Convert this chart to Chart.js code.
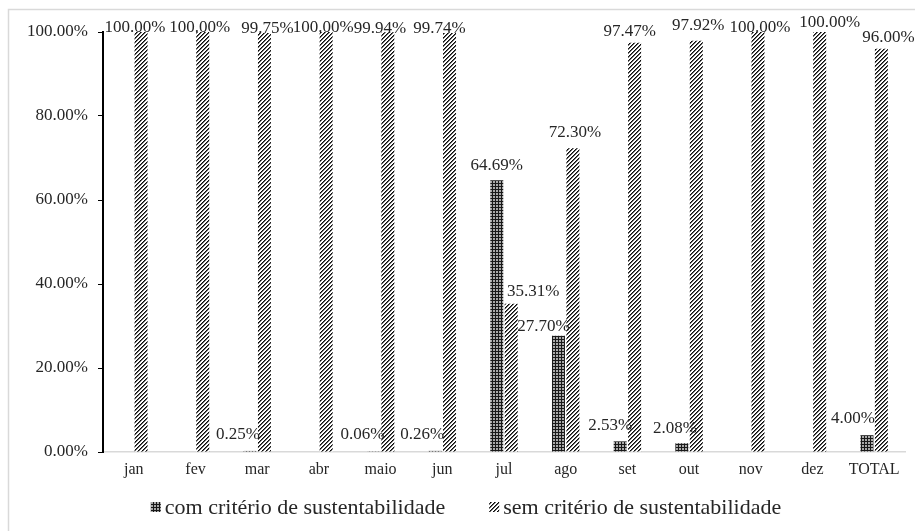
<!DOCTYPE html>
<html>
<head>
<meta charset="utf-8">
<script src="https://cdn.jsdelivr.net/npm/chart.js@4.4.1/dist/chart.umd.min.js"></script>
<style>
  html, body { margin: 0; padding: 0; background: #fff; }
  #wrap { width: 915px; height: 531px; position: relative; }
</style>
</head>
<body>
<div id="wrap"><canvas id="c" width="915" height="531"></canvas></div>
<script>
// Share of purchases with / without sustainability criteria, by month
const categories = ['jan', 'fev', 'mar', 'abr', 'maio', 'jun', 'jul', 'ago', 'set', 'out', 'nov', 'dez', 'TOTAL'];
const comCriterio = [0, 0, 0.25, 0, 0.06, 0.26, 64.69, 27.70, 2.53, 2.08, 0, 0, 4.00];
const semCriterio = [100, 100, 99.75, 100, 99.94, 99.74, 35.31, 72.30, 97.47, 97.92, 100, 100, 96.00];
const seriesNames = ['com critério de sustentabilidade', 'sem critério de sustentabilidade'];
const yTicks = [0, 20, 40, 60, 80, 100];

const SERIF = '"Liberation Serif", "Times New Roman", serif';
const canvas = document.getElementById('c');
const ctx0 = canvas.getContext('2d');

// Small pixel tiles used as bar fills
function makePattern(size, painter) {
  const t = document.createElement('canvas');
  t.width = size; t.height = size;
  const g = t.getContext('2d');
  const img = g.createImageData(size, size);
  for (let y = 0; y < size; y++) {
    for (let x = 0; x < size; x++) {
      const v = painter(x, y);
      const i = (y * size + x) * 4;
      img.data[i] = img.data[i + 1] = img.data[i + 2] = v;
      img.data[i + 3] = 255;
    }
  }
  g.putImageData(img, 0, 0);
  return ctx0.createPattern(t, 'repeat');
}
// dark dotted grid
const gridDots = makePattern(3, (x, y) => (x === 0 || y === 0) ? 25 : 170);
// upward diagonal hatch
const diagHatch = makePattern(4, (x, y) => {
  const k = (x + y) % 4;
  return k === 0 ? 10 : (k === 1 ? 100 : 255);
});

const fmtPct = v => v.toFixed(2) + '%';

// Value labels above each bar (zero values are left unlabelled)
const barLabels = {
  id: 'barLabels',
  afterDatasetsDraw(chart, args, opts) {
    const ctx = chart.ctx;
    ctx.save();
    ctx.font = opts.size + 'px ' + SERIF;
    ctx.fillStyle = opts.color;
    ctx.textAlign = 'center';
    ctx.textBaseline = 'middle';
    chart.data.datasets.forEach((ds, di) => {
      const meta = chart.getDatasetMeta(di);
      meta.data.forEach((bar, i) => {
        const v = ds.data[i];
        if (!v) return;
        const n = (opts.nudge[di] && opts.nudge[di][i]) || [0, -15];
        ctx.fillText(fmtPct(v), bar.x + n[0], bar.y + n[1]);
      });
    });
    ctx.restore();
  }
};

// White background and thin light frame
const frame = {
  id: 'frame',
  beforeDraw(chart) {
    const ctx = chart.ctx;
    ctx.save();
    ctx.fillStyle = '#fff';
    ctx.fillRect(0, 0, chart.width, chart.height);
    ctx.strokeStyle = '#d9d9d9';
    ctx.lineWidth = 1.5;
    ctx.strokeRect(8.5, 9.5, 930, 540);
    ctx.restore();
  }
};

// Legend row beneath the axis
const bottomLegend = {
  id: 'bottomLegend',
  afterDraw(chart, args, opts) {
    const ctx = chart.ctx;
    ctx.save();
    ctx.font = opts.size + 'px ' + SERIF;
    ctx.textBaseline = 'middle';
    ctx.textAlign = 'left';
    const items = chart.data.datasets.map(ds => ({
      text: ds.label, fill: ds.backgroundColor, w: ctx.measureText(ds.label).width
    }));
    const box = opts.box, gapText = opts.gapText, gapItem = opts.gapItem;
    let total = 0;
    items.forEach((it, k) => { total += box + gapText + it.w + (k ? gapItem : 0); });
    let x = opts.centerX - total / 2;
    const y = opts.y;
    items.forEach((it, k) => {
      if (k) x += gapItem;
      ctx.fillStyle = it.fill;
      ctx.fillRect(x, y - box / 2, box, box);
      x += box + gapText;
      ctx.fillStyle = opts.color;
      ctx.fillText(it.text, x, y + 1);
      x += it.w;
    });
    ctx.restore();
  }
};

new Chart(canvas, {
  type: 'bar',
  data: {
    labels: categories,
    datasets: [
      { label: seriesNames[0], data: comCriterio, backgroundColor: gridDots, borderWidth: 0 },
      { label: seriesNames[1], data: semCriterio, backgroundColor: diagHatch, borderWidth: 0 }
    ]
  },
  options: {
    responsive: false,
    animation: false,
    devicePixelRatio: 1,
    layout: { padding: { top: 32, right: 10, bottom: 49, left: 0 } },
    datasets: { bar: { categoryPercentage: 0.468, barPercentage: 0.9 } },
    scales: {
      x: {
        grid: { display: false, drawTicks: false },
        border: { display: true, color: '#d9d9d9', width: 1.5 },
        ticks: { font: { family: SERIF, size: 16 }, color: '#262626', padding: 8, autoSkip: false, maxRotation: 0 },
        afterFit(s) { s.height = 30; }
      },
      y: {
        min: 0, max: 100,
        afterBuildTicks(s) { s.ticks = yTicks.map(v => ({ value: v })); },
        grid: { drawOnChartArea: false, drawTicks: true, tickLength: 5, color: '#000', lineWidth: 1 },
        border: { display: true, color: '#000', width: 2 },
        ticks: { font: { family: SERIF, size: 17 }, color: '#262626', padding: 10, callback: v => fmtPct(v) },
        afterFit(s) { s.width = 103; }
      }
    },
    plugins: {
      legend: { display: false },
      tooltip: { enabled: false },
      barLabels: {
        size: 17, color: '#262626',
        nudge: [
          [null, null, [-12, -16], null, [-11, -17], [-13, -16], [0, -15], [-15, -9], [-10, -16], [-7, -15], null, null, [-14, -17]],
          [[-6, -4], [-3, -4], [3, -5], [-3, -4], [-8, -4], [-10, -5], [22, -12], [2, -16], [-5, -11], [2, -15], [2, -4], [10, -9], [7, -11]]
        ]
      },
      bottomLegend: { size: 22, color: '#262626', box: 10, gapText: 4, gapItem: 44, centerX: 466, y: 507 }
    }
  },
  plugins: [frame, barLabels, bottomLegend]
});
</script>
</body>
</html>
